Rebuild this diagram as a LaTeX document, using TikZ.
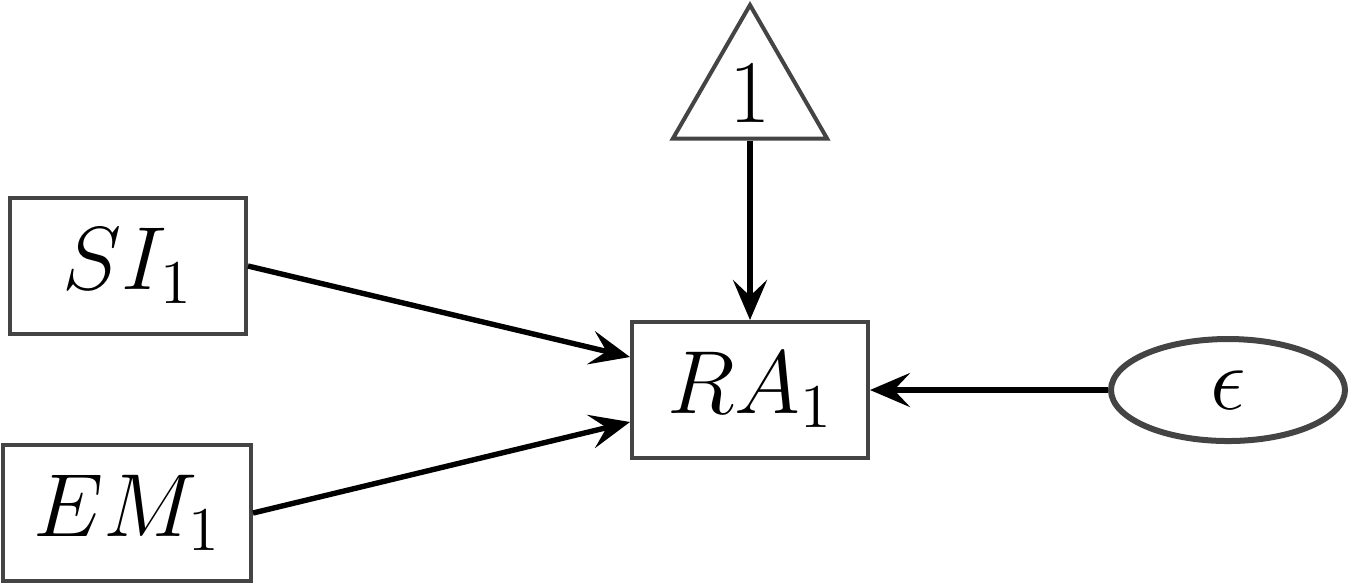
\documentclass[tikz,border=0pt]{standalone}
\usepackage{graphicx}
\usetikzlibrary{arrows.meta,shapes.geometric,calc}
\definecolor{bordergray}{HTML}{444444}
\newcommand{\mylbl}[1]{\scalebox{1.08}{$#1$}}
\begin{document}
\begin{tikzpicture}[x=0.25pt,y=-0.25pt,
  every node/.style={font=\fontsize{20.74}{25}\selectfont},
  obsbox/.style={draw=bordergray,line width=1pt,rectangle,inner sep=0pt,minimum width=59pt,minimum height=34pt},
  errell/.style={draw=bordergray,line width=1.5pt,ellipse,inner sep=0pt,minimum width=58.5pt,minimum height=25.5pt},
  consttri/.style={draw=bordergray,line width=1pt,regular polygon,regular polygon sides=3,inner sep=0pt,minimum size=44.5pt},
  pathar/.style={draw=black,line width=1.35pt,-{Stealth[length=10pt,width=8.5pt,inset=4pt]}}]
\useasboundingbox (0,0) rectangle (1350,583);
\node[obsbox] (si) at (128,266) {\mylbl{SI_1}};
\node[obsbox,minimum width=62pt] (em) at (127,513) {\mylbl{EM_1}};
\node[obsbox] (ra) at (750,390) {\mylbl{RA_1}};
\node[consttri] (one) at (750,94) {\mylbl{1}};
\node[errell] (eps) at (1228,390) {\mylbl{\epsilon}};
\draw[pathar] (si.east) -- ($(ra.west)+(0,-33)$);
\draw[pathar] (em.east) -- ($(ra.west)+(0,32)$);
\draw[pathar] (one.side 2) -- (ra.north);
\draw[pathar] (eps.west) -- (ra.east);
\end{tikzpicture}
\end{document}
